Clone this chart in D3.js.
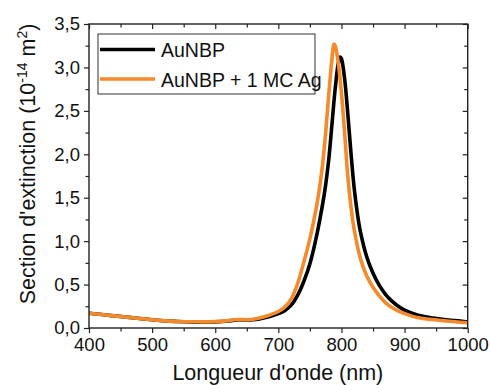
<!DOCTYPE html>
<html>
<head>
<meta charset="utf-8">
<script src="https://cdn.jsdelivr.net/npm/d3@7"></script>
<style>
  html, body { margin: 0; padding: 0; background: #fff; }
  svg { display: block; font-family: "Liberation Sans", Arial, sans-serif; }
</style>
</head>
<body>
<svg id="chart" width="490" height="385"></svg>
<script>
// Wavelengths (nm) and extinction cross-section (10^-14 m^2)
const wlAu = [400,420,440,460,480,500,520,540,560,580,600,620,630,640,650,660,670,680,690,700,710,720,730,740,750,760,770,775,780,785,790,795,798,800,805,810,815,820,825,830,840,850,860,870,880,890,900,920,940,960,980,1000];
const valAu = [0.17,0.155,0.14,0.125,0.11,0.095,0.082,0.075,0.07,0.068,0.07,0.08,0.09,0.092,0.092,0.095,0.105,0.12,0.14,0.165,0.2,0.26,0.37,0.53,0.74,1.04,1.42,1.65,1.95,2.35,2.75,3.05,3.12,3.1,2.87,2.47,2.02,1.62,1.33,1.11,0.82,0.63,0.49,0.385,0.31,0.25,0.205,0.15,0.12,0.1,0.085,0.07];

const wlAg = [400,420,440,460,480,500,520,540,560,580,600,620,630,640,650,660,670,680,690,700,710,720,730,740,750,760,765,770,775,780,785,788,790,795,800,805,810,815,820,830,840,850,860,870,880,890,900,920,940,960,980,1000];
const valAg = [0.17,0.155,0.14,0.125,0.11,0.095,0.082,0.075,0.072,0.07,0.073,0.085,0.095,0.097,0.095,0.1,0.115,0.135,0.16,0.19,0.24,0.33,0.5,0.75,1.03,1.38,1.6,1.88,2.25,2.7,3.1,3.27,3.25,3.05,2.7,2.25,1.75,1.40,1.14,0.80,0.6,0.47,0.37,0.29,0.235,0.195,0.165,0.12,0.1,0.085,0.072,0.06];

const seriesNames = ["AuNBP", "AuNBP + 1 MC Ag"];
const seriesColors = ["#000000", "#f48a2c"];

const xMajor = [400,500,600,700,800,900,1000];
const xMinor = [450,550,650,750,850,950];
const yMajor = [0,0.5,1,1.5,2,2.5,3,3.5];
const yMinor = [0.25,0.75,1.25,1.75,2.25,2.75,3.25];

const fmtY = d => d3.format(".1f")(d).replace(".", ",");

const svg = d3.select("#chart");
const L = 89, R = 467.7, T = 24, B = 328;
const x = d3.scaleLinear().domain([400, 1000]).range([L, R]);
const y = d3.scaleLinear().domain([0, 3.5]).range([B, T]);

const line = d3.line().x(d => x(d[0])).y(d => y(d[1])).curve(d3.curveCatmullRom.alpha(0.5));

svg.append("clipPath").attr("id", "clip").append("rect")
  .attr("x", L).attr("y", T).attr("width", R - L).attr("height", B - T);

const plot = svg.append("g").attr("clip-path", "url(#clip)");
const dataSets = [d3.zip(wlAu, valAu), d3.zip(wlAg, valAg)];
dataSets.forEach((ds, i) => {
  plot.append("path").datum(ds)
    .attr("d", line)
    .attr("fill", "none")
    .attr("stroke", seriesColors[i])
    .attr("stroke-width", 3.6)
    .attr("stroke-linejoin", "round");
});

// Axes
const axisColor = "#222";
const fs = "18.5px";
svg.append("g").attr("transform", `translate(0,${B})`)
  .call(d3.axisBottom(x).tickValues(xMajor).tickSize(5).tickPadding(5).tickFormat(d3.format("d")));
svg.append("g").attr("transform", `translate(0,${B})`)
  .call(d3.axisBottom(x).tickValues(xMinor).tickSize(3.5).tickFormat(""));
svg.append("g").attr("transform", `translate(${L},0)`)
  .call(d3.axisLeft(y).tickValues(yMajor).tickSize(5).tickPadding(4).tickFormat(fmtY));
svg.append("g").attr("transform", `translate(${L},0)`)
  .call(d3.axisLeft(y).tickValues(yMinor).tickSize(3.5).tickFormat(""));
// mirrored inward ticks top/right
svg.append("g").attr("transform", `translate(0,${T})`)
  .call(d3.axisBottom(x).tickValues(xMajor).tickSize(5).tickFormat(""));
svg.append("g").attr("transform", `translate(0,${T})`)
  .call(d3.axisBottom(x).tickValues(xMinor).tickSize(3.5).tickFormat(""));
svg.append("g").attr("transform", `translate(${R},0)`)
  .call(d3.axisLeft(y).tickValues(yMajor).tickSize(5).tickFormat(""));
svg.append("g").attr("transform", `translate(${R},0)`)
  .call(d3.axisLeft(y).tickValues(yMinor).tickSize(3.5).tickFormat(""));

svg.selectAll(".domain").remove();
svg.selectAll(".tick line").attr("stroke", axisColor).attr("stroke-width", 1.2);
svg.selectAll(".tick text").attr("fill", "#111").style("font-size", fs)
  .style("font-family", "'Liberation Sans', Arial, sans-serif");

svg.append("rect").attr("x", L).attr("y", T).attr("width", R - L).attr("height", B - T)
  .attr("fill", "none").attr("stroke", axisColor).attr("stroke-width", 1.4);

// Axis titles
svg.append("text").attr("x", (L + R) / 2 - 0.5).attr("y", 380)
  .attr("text-anchor", "middle").style("font-size", "21.5px").attr("fill", "#111")
  .text("Longueur d'onde (nm)");

const yt = svg.append("text").attr("transform", "translate(34.5,164) rotate(-90)")
  .attr("text-anchor", "middle").style("font-size", "21.5px").attr("fill", "#111");
yt.append("tspan").text("Section d'extinction (10");
yt.append("tspan").attr("dy", -8).style("font-size", "14px").text("-14");
yt.append("tspan").attr("dy", 8).text(" m");
yt.append("tspan").attr("dy", -8).style("font-size", "14px").text("2");
yt.append("tspan").attr("dy", 8).text(")");

// Legend
const lg = svg.append("g");
lg.append("rect").attr("x", 98).attr("y", 34).attr("width", 217).attr("height", 60)
  .attr("fill", "#fff").attr("stroke", "#333").attr("stroke-width", 1);
const rowsY = [49.5, 79];
seriesNames.forEach((n, i) => {
  lg.append("line").attr("x1", 100).attr("x2", 155).attr("y1", rowsY[i]).attr("y2", rowsY[i])
    .attr("stroke", seriesColors[i]).attr("stroke-width", 3.6);
  lg.append("text").attr("x", 161).attr("y", rowsY[i] + 7.5)
    .style("font-size", "19.5px").attr("fill", "#111").text(n);
});
</script>
</body>
</html>
